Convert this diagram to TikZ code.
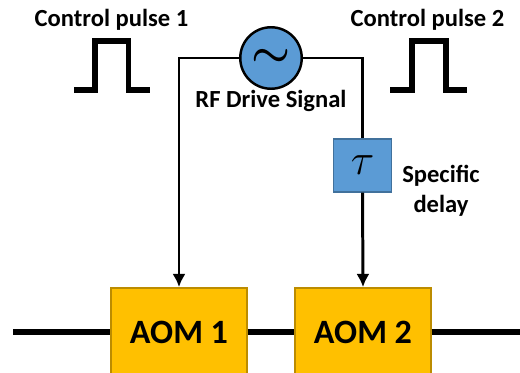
\documentclass[tikz,border=0pt]{standalone}
\usepackage{fontspec}
\setmainfont{Carlito}
\usepackage{amsmath}
\usetikzlibrary{arrows.meta}
\definecolor{rfblue}{HTML}{5B9BD5}
\definecolor{delayedge}{HTML}{41719C}
\definecolor{aomfill}{HTML}{FFC000}
\definecolor{aomedge}{HTML}{BC8C00}
\tikzset{
  label text/.style={font=\fontsize{14}{16}\selectfont\bfseries, inner sep=0pt, align=center},
  aom/.style={draw=aomedge, fill=aomfill, line width=1.1pt, minimum width=77pt, minimum height=50pt, inner sep=0pt, font=\fontsize{19.4}{21}\selectfont\bfseries},
  signal/.style={line width=1.7pt},
  beam/.style={line width=2.9pt},
  pulse/.style={line width=2.9pt}
}
\begin{document}
\begin{tikzpicture}[x=0.02cm,y=-0.02cm]
\useasboundingbox (0,0) rectangle (520,372);
\clip (0,0) rectangle (520,372);
% the AOMs and the beam
\node[aom] (aom1) at (179,332) {AOM 1};
\node[aom] (aom2) at (363,332) {AOM 2};
\coordinate (beamin) at (13,332);
\coordinate (beamout) at (520,332);
\draw[beam] (beamin) -- (aom1.west);
\draw[beam] (aom1.east) -- (aom2.west);
\draw[beam] (aom2.east) -- (beamout);
% RF source and delay
\node[circle, draw=black, fill=rfblue, line width=1.4pt, minimum size=35pt, inner sep=0pt, font=\fontsize{32}{32}\selectfont\boldmath] (rf) at (271,58) {$\sim$};
\node[draw=delayedge, fill=rfblue, line width=0.9pt, minimum width=33pt, minimum height=30pt, inner sep=0pt, font=\fontsize{27}{27}\selectfont] (tau) at (362.5,165.5) {$\tau$};
% the connectors
\draw[signal,-{Latex[length=7.5pt,width=7.5pt]}] (rf.west) -| (aom1.north);
\draw[signal] (rf.east) -| (tau.north);
\draw[signal,-{Latex[length=7.5pt,width=7.5pt]}] (tau.south) -- (aom2.north);
% the pulses
\draw[pulse] (74,90) -- (95,90) -- (95,41) -- (128.5,41) -- (128.5,90) -- (150,90);
\draw[pulse] (390,90) -- (412,90) -- (412,41) -- (446,41) -- (446,90) -- (467,90);
% the labels
\node[label text] (pulse1) at (111.5,20) {Control pulse 1};
\node[label text] (pulse2) at (427.5,20) {Control pulse 2};
\node[label text] (rflabel) at (271,101) {RF Drive Signal};
\node[label text] (delaylabel) at (441,190.5) {Specific\\[1pt]delay};
\end{tikzpicture}
\end{document}
